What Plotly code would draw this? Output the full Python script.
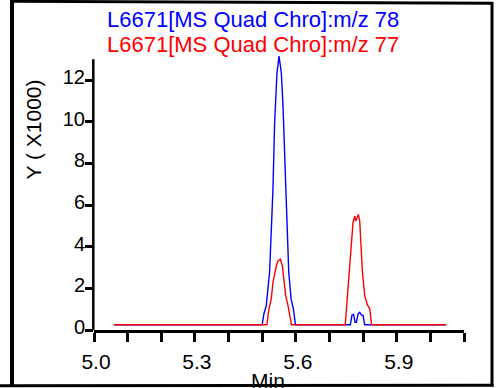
import plotly.graph_objects as go

# ---- data (retention time in min, intensity in thousands) ----
blue_name = "L6671[MS Quad Chro]:m/z 78"
red_name = "L6671[MS Quad Chro]:m/z 77"

blue_t = [5.059, 5.500, 5.505, 5.512, 5.522, 5.532, 5.537, 5.544, 5.550, 5.557,
          5.562, 5.572, 5.579, 5.586, 5.593, 5.599, 5.762, 5.767, 5.772, 5.776,
          5.780, 5.785, 5.790, 5.795, 5.800, 5.805, 6.047]
blue_y = [0.25, 0.25, 0.77, 1.16, 2.77, 6.75, 9.95, 12.34, 13.15, 12.34,
          10.7, 5.95, 2.77, 1.48, 1.0, 0.25, 0.25, 0.72, 0.75, 0.37,
          0.37, 0.77, 0.85, 0.72, 0.69, 0.25, 0.25]

red_t = [5.059, 5.514, 5.520, 5.527, 5.532, 5.537, 5.542, 5.547, 5.554, 5.560,
         5.564, 5.570, 5.577, 5.582, 5.587, 5.747, 5.755, 5.762, 5.770, 5.775,
         5.778, 5.782, 5.786, 5.790, 5.793, 5.798, 5.805, 5.812, 5.820, 5.825,
         6.047]
red_y = [0.25, 0.25, 1.0, 1.48, 2.28, 2.76, 3.08, 3.32, 3.4, 3.08,
         2.44, 1.64, 1.16, 0.69, 0.25, 0.25, 1.96, 3.55, 5.15, 5.47,
         5.23, 5.39, 5.55, 5.23, 4.35, 2.76, 1.64, 1.24, 1.0, 0.25,
         0.25]

x_tickvals = [5.0, 5.1, 5.2, 5.3, 5.4, 5.5, 5.6, 5.7, 5.8, 5.9, 6.0, 6.1]
x_ticktext = ["5.0", "", "", "5.3", "", "", "5.6", "", "", "5.9", "", ""]
y_tickvals = [0, 2, 4, 6, 8, 10, 12]
y_ticktext = ["0", "2", "4", "6", "8", "10", "12"]
y_axis_top = 13.0

# ---- layout geometry (pixels) ----
WID, HEI = 497, 388
L, R, T, B = 94, 33, 51, 58
PW, PH = WID - L - R, HEI - T - B
PX_PER_UNIT = 20.83
y_max = PH / PX_PER_UNIT

FONT = "Liberation Sans, Arial, Helvetica, sans-serif"


def px(x):
    return (x - L) / PW


def py(y):
    return (HEI - B - y) / PH


fig = go.Figure()
fig.add_trace(go.Scatter(x=blue_t, y=blue_y, mode="lines", name=blue_name,
                         line=dict(color="#0000ff", width=1.4)))
fig.add_trace(go.Scatter(x=red_t, y=red_y, mode="lines", name=red_name,
                         line=dict(color="#ff0000", width=1.4)))

shapes = [
    # y axis line (shorter than plot area)
    dict(type="line", xref="paper", yref="y", x0=px(93.3), x1=px(93.3),
         y0=0, y1=y_axis_top, line=dict(color="black", width=2.5), layer="above"),
    # outer frame
    dict(type="rect", xref="paper", yref="paper", x0=px(10), x1=px(14),
         y0=py(0), y1=py(386), fillcolor="black", line=dict(width=0), layer="above"),
    dict(type="line", xref="paper", yref="paper", x0=px(12), x1=px(493),
         y0=py(1.3), y1=py(3.2), line=dict(color="black", width=3), layer="above"),
    dict(type="line", xref="paper", yref="paper", x0=px(492), x1=px(492),
         y0=py(2), y1=py(386.5), line=dict(color="black", width=3), layer="above"),
    dict(type="line", xref="paper", yref="paper", x0=px(0), x1=px(493.5),
         y0=py(385.7), y1=py(385.2), line=dict(color="black", width=3), layer="above"),
]

annotations = [
    dict(text=blue_name, xref="paper", yref="paper", x=px(252.5), y=py(19.1),
         xanchor="center", yanchor="middle", showarrow=False,
         font=dict(family=FONT, size=22, color="#0000ff")),
    dict(text=red_name, xref="paper", yref="paper", x=px(252.5), y=py(44.7),
         xanchor="center", yanchor="middle", showarrow=False,
         font=dict(family=FONT, size=22, color="#ff0000")),
    dict(text="Y ( X1000)", xref="paper", yref="paper", x=px(32.5), y=py(130),
         xanchor="center", yanchor="middle", showarrow=False, textangle=-90,
         font=dict(family=FONT, size=21, color="black")),
    dict(text="Min", xref="paper", yref="paper", x=px(268.3), y=py(380.5),
         xanchor="center", yanchor="middle", showarrow=False,
         font=dict(family=FONT, size=21, color="black")),
]

fig.update_layout(
    width=WID, height=HEI,
    margin=dict(l=L, r=R, t=T, b=B, autoexpand=False),
    paper_bgcolor="white", plot_bgcolor="white",
    showlegend=False,
    shapes=shapes, annotations=annotations,
    xaxis=dict(range=[5.0, 6.1], tickmode="array", tickvals=x_tickvals,
               ticktext=x_ticktext, ticks="outside", ticklen=9, tickwidth=2.5,
               tickcolor="black", showline=True, linecolor="black", linewidth=2.5,
               showgrid=False, zeroline=False, ticklabelshift=2,
               ticklabelstandoff=2,
               tickfont=dict(family=FONT, size=21, color="black")),
    yaxis=dict(range=[0, y_max], tickmode="array", tickvals=y_tickvals,
               ticktext=y_ticktext, ticks="outside", ticklen=8, tickwidth=2.5,
               tickcolor="black", showline=False, showgrid=False, zeroline=False,
               ticklabelstandoff=-4, ticklabelshift=-3,
               tickfont=dict(family=FONT, size=20, color="black")),
)

fig.write_html(
    "out.html",
    config={"displayModeBar": False},
    post_script="document.body.style.margin='0';document.body.style.overflow='hidden';",
)
